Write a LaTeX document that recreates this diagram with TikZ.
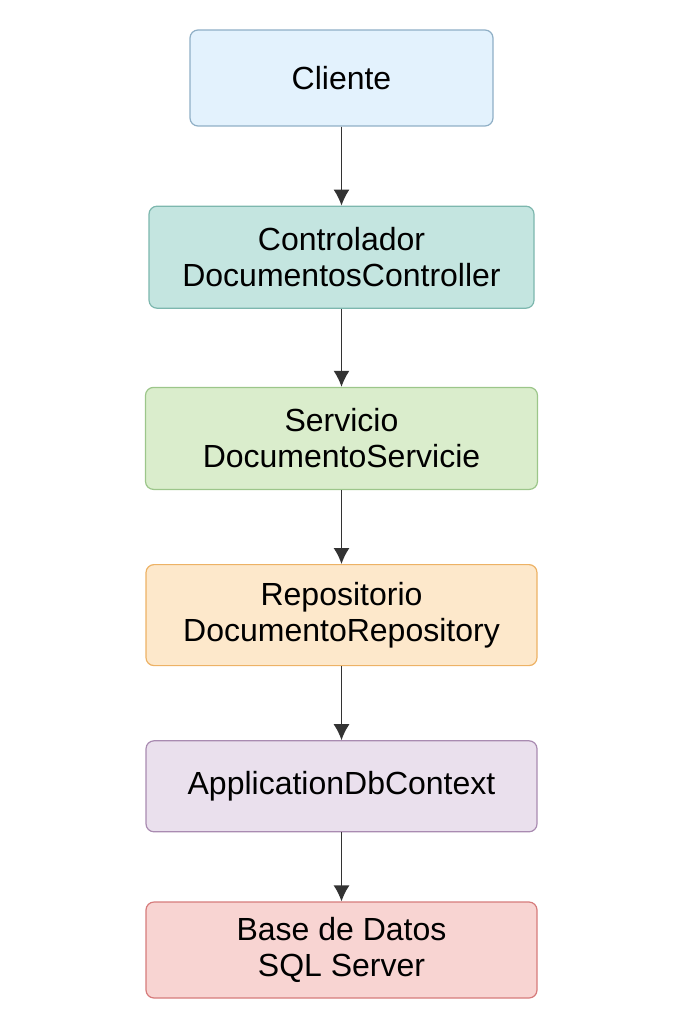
\documentclass[tikz,border=0pt]{standalone}
\usepackage{fontspec}
\setmainfont{Liberation Sans}
\usepackage{tikz}
\usetikzlibrary{arrows.meta,positioning}
\definecolor{clifill}{HTML}{E3F2FD}
\definecolor{clidraw}{HTML}{8FAFC6}
\definecolor{ctlfill}{HTML}{C4E5E0}
\definecolor{ctldraw}{HTML}{7DB7AE}
\definecolor{srvfill}{HTML}{DAEDCC}
\definecolor{srvdraw}{HTML}{9CC68A}
\definecolor{repfill}{HTML}{FDE8CB}
\definecolor{repdraw}{HTML}{EDB265}
\definecolor{ctxfill}{HTML}{EAE0ED}
\definecolor{ctxdraw}{HTML}{A98BB1}
\definecolor{dbfill}{HTML}{F8D4D2}
\definecolor{dbdraw}{HTML}{D67B7B}
\definecolor{arrowgray}{HTML}{333333}

\begin{document}
\begin{tikzpicture}[
  font=\fontsize{32}{36}\selectfont,
  layer/.style={draw, rounded corners=8pt, line width=1.2pt, align=center, minimum width=391pt, inner sep=0pt},
  flow/.style={-{Latex[length=16pt,width=16pt]}, draw=arrowgray, fill=arrowgray, line width=1.4pt}
]
\useasboundingbox (0,0) rectangle (683pt,-1024pt);

\node[layer, fill=clifill, draw=clidraw, minimum width=303pt, minimum height=96pt] (cli) at (341.5pt,-78pt) {Cliente};
\node[layer, fill=ctlfill, draw=ctldraw, minimum width=385pt, minimum height=102pt, below=79pt of cli] (ctl) {Controlador\\DocumentosController};
\node[layer, fill=srvfill, draw=srvdraw, minimum width=392pt, minimum height=102pt, below=78pt of ctl] (srv) {Servicio\\DocumentoServicie};
\node[layer, fill=repfill, draw=repdraw, minimum height=101pt, below=74pt of srv] (rep) {Repositorio\\DocumentoRepository};
\node[layer, fill=ctxfill, draw=ctxdraw, minimum height=91pt, below=74pt of rep] (ctx) {ApplicationDbContext};
\node[layer, fill=dbfill, draw=dbdraw, minimum height=96pt, below=69pt of ctx] (db) {Base de Datos\\SQL Server};

\draw[flow] (cli) -- (ctl);
\draw[flow] (ctl) -- (srv);
\draw[flow] (srv) -- (rep);
\draw[flow] (rep) -- (ctx);
\draw[flow] (ctx) -- (db);
\end{tikzpicture}
\end{document}
